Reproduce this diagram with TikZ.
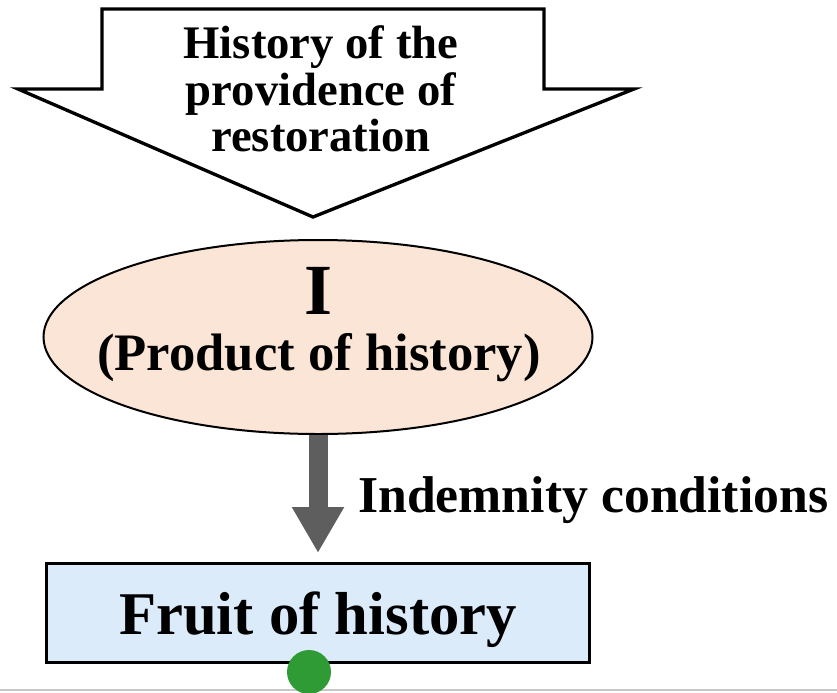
\documentclass[tikz,border=0pt]{standalone}
\usepackage{fontspec}
\setmainfont{Liberation Serif}
\usepackage{xcolor}
\definecolor{peche}{HTML}{FBE5D6}
\definecolor{ciel}{HTML}{DCEBFA}
\definecolor{gristrait}{HTML}{5E5E5E}
\definecolor{vertpoint}{HTML}{2E9B34}
\definecolor{grisligne}{HTML}{C8C8C8}
\usetikzlibrary{arrows.meta,shapes.geometric}

\begin{document}
\begin{tikzpicture}[x=0.75pt,y=-0.75pt,
  every node/.style={inner sep=0pt},
  grand/.style={draw=black,line width=2.5pt,fill=white,line join=miter},
  ell/.style={ellipse,draw=black,line width=1.5pt,fill=peche,minimum width=411.75pt,minimum height=145.5pt},
  boite/.style={rectangle,draw=black,line width=2.25pt,fill=ciel,minimum width=407.25pt,minimum height=74.25pt},
  fl/.style={-{Triangle[length=34.5pt,width=36.75pt]},gristrait,line width=14.25pt,shorten >=6.75pt}
]
\useasboundingbox (0,0) rectangle (837,692);
% grande fleche du haut
\draw[grand] (102,9) -- (544,9) -- (544,89) -- (634,89) -- (313,217) -- (18,89) -- (102,89) -- cycle;
\node[align=center,font=\bfseries\fontsize{35pt}{35pt}\selectfont] (hist) at (321,89) {History of the\\providence of\\restoration};

\node[ell] (prod) at (318,337) {};
\node[align=center,font=\bfseries\fontsize{39.5pt}{42pt}\selectfont] (prodtxt) at (319,325) {{\fontsize{54pt}{42pt}\selectfont I}\\(Product of history)};

\node[boite,text depth=0pt,font=\bfseries\fontsize{45.5pt}{46pt}\selectfont] (fruit) at (318,613) {Fruit of history};

\draw[fl] (prod) -- (fruit);
\node[anchor=base west,font=\bfseries\fontsize{38.8pt}{40pt}\selectfont] (cond) at (358,512) {Indemnity conditions};

\draw[grisligne,line width=1.5pt] (0,690) -- (837,690);
\node[circle,fill=vertpoint,minimum size=33pt] (point) at (309,672) {};
\end{tikzpicture}
\end{document}
